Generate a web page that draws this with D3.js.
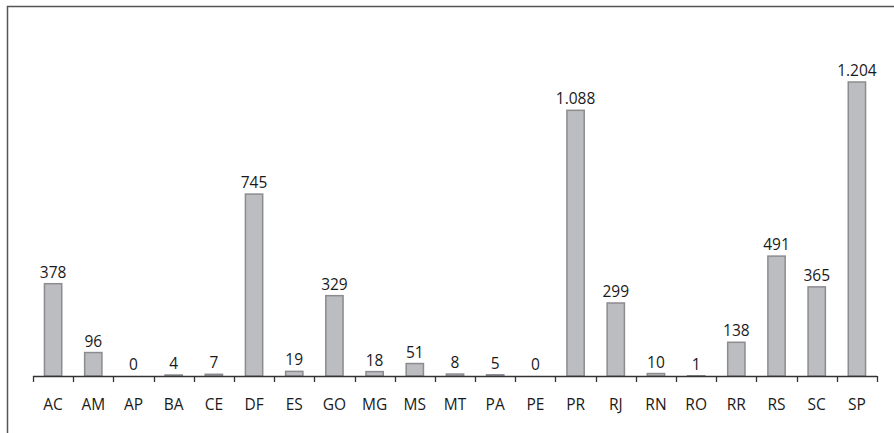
<!DOCTYPE html>
<html>
<head>
<meta charset="utf-8">
<script src="https://cdn.jsdelivr.net/npm/d3@7"></script>
<style>
  body { margin: 0; background: #fff; }
  text { font-family: "Open Sans", "Noto Sans", sans-serif; fill: #1a1a1a; }
</style>
</head>
<body>
<div id="chart"></div>
<script>
// states and counts
const states = ["AC","AM","AP","BA","CE","DF","ES","GO","MG","MS","MT","PA","PE","PR","RJ","RN","RO","RR","RS","SC","SP"];
const counts = [378, 96, 0, 4, 7, 745, 19, 329, 18, 51, 8, 5, 0, 1088, 299, 10, 1, 138, 491, 365, 1204];

const width = 894, height = 433;
const data = states.map(function(s, i) { return {state: s, value: counts[i]}; });

const svg = d3.select("#chart").append("svg")
  .attr("width", width)
  .attr("height", height);

// frame (only top and left edges are visible in the crop)
svg.append("rect")
  .attr("x", 7.5).attr("y", 6.5)
  .attr("width", 1000).attr("height", 1000)
  .attr("fill", "none")
  .attr("stroke", "#555")
  .attr("stroke-width", 1.5);

const x = d3.scaleBand()
  .domain(states)
  .range([33, 877])
  .paddingInner(0.57)
  .paddingOuter(0.285);

const y = d3.scaleLinear()
  .domain([0, 1204])
  .range([376, 82]);

// thousands separator with "."
const fmt = d3.formatLocale({decimal: ",", thousands: ".", grouping: [3], currency: ["R$", ""]}).format(",d");

svg.selectAll(".bar")
  .data(data)
  .enter().append("rect")
  .attr("class", "bar")
  .attr("x", function(d) { return x(d.state); })
  .attr("width", x.bandwidth())
  .attr("y", function(d) { return y(d.value); })
  .attr("height", function(d) { return y(0) - y(d.value); })
  .attr("fill", "#bcbdc1")
  .attr("stroke", "#8c8c90")
  .attr("stroke-width", 1.5)
  .style("display", function(d) { return d.value > 0 ? null : "none"; });

svg.selectAll(".val")
  .data(data)
  .enter().append("text")
  .attr("class", "val")
  .attr("x", function(d) { return x(d.state) + x.bandwidth() / 2; })
  .attr("y", function(d) { return y(d.value) - 6; })
  .attr("text-anchor", "middle")
  .style("font-size", "15.5px")
  .text(function(d) { return fmt(d.value); });

// axis: baseline plus ticks on band boundaries
const axis = svg.append("g");
axis.append("line")
  .attr("x1", 33).attr("x2", 877)
  .attr("y1", 376.5).attr("y2", 376.5)
  .attr("stroke", "#333")
  .attr("stroke-width", 1.5);

const bounds = d3.range(states.length + 1).map(function(i) { return 33 + i * x.step(); });
axis.selectAll(".tick")
  .data(bounds)
  .enter().append("line")
  .attr("x1", function(d) { return Math.round(d) + 0.5; })
  .attr("x2", function(d) { return Math.round(d) + 0.5; })
  .attr("y1", 376).attr("y2", 382)
  .attr("stroke", "#333")
  .attr("stroke-width", 1.3);

axis.selectAll(".lab")
  .data(states)
  .enter().append("text")
  .attr("x", function(d) { return x(d) + x.bandwidth() / 2; })
  .attr("y", 410)
  .attr("text-anchor", "middle")
  .style("font-size", "15.5px")
  .text(function(d) { return d; });
</script>
</body>
</html>
